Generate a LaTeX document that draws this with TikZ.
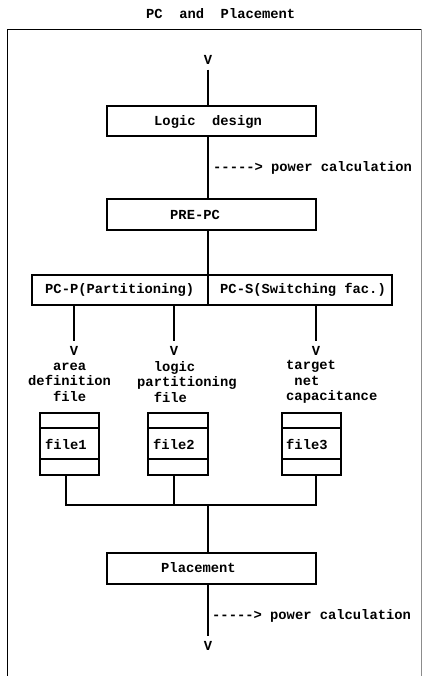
\documentclass[tikz,border=0pt]{standalone}
\usepackage{fontspec}
\newfontfamily\mono{Liberation Mono}
\begin{document}
\begin{tikzpicture}[x=1pt,y=-1pt,
  txt/.style={font={\mono\bfseries\fontsize{13.8}{15.5}\selectfont}, inner sep=0pt, anchor=west},
  vmark/.style={font={\mono\bfseries\fontsize{13.8}{15.5}\selectfont}, anchor=center, inner xsep=0pt, inner ysep=5pt},
  box/.style={draw, line width=1.2pt, inner sep=0pt},
  ln/.style={line width=1.2pt}]
\useasboundingbox (0,0) rectangle (423,676);
% frame
\draw[line width=1.1pt] (7.5,680) -- (7.5,29.5) -- (421,29.5);
\draw[line width=0.8pt, black!45] (421,29.5) -- (421,680);
% title
\node[txt] (title) at (146,14) {PC~~and~~Placement};
% top
\coordinate (ax) at (208,0);
\node[vmark] (vtop) at (208,60) {V};
\node[box, minimum width=209pt, minimum height=30pt] (logic) at (211.5,121) {};
\node[txt] (logict) at (154,121.5) {Logic~~design};
\node[txt] (pc1) at (213,168) {{-}{-}{-}{-}{-}>~power~calculation};
\node[box, minimum width=209pt, minimum height=31pt] (prepc) at (211.5,214.5) {};
\node[txt] (prepct) at (170,214.5) {PRE-PC};
\node[box, minimum width=176pt, minimum height=30pt] (pcp) at (120,290) {};
\node[txt] (pcpt) at (45,290) {PC-P(Partitioning)};
\node[box, minimum width=184pt, minimum height=30pt] (pcs) at (300,290) {};
\node[txt] (pcst) at (220,290) {PC-S(Switching~fac.)};
\draw[ln] (vtop.south) -- (ax |- logic.north);
\draw[ln] (ax |- logic.south) -- (ax |- prepc.north);
\draw[ln] (ax |- prepc.south) -- (ax |- pcp.north);
% branches
\node[vmark] (va) at (74,351) {V};
\node[vmark] (vb) at (174,351) {V};
\node[vmark] (vc) at (316,351) {V};
\draw[ln] (va |- pcp.south) -- (va.north);
\draw[ln] (vb |- pcp.south) -- (vb.north);
\draw[ln] (vc |- pcs.south) -- (vc.north);
\node[txt, align=left] (la) at (28,382) {\phantom{aaa}area\\definition\\\phantom{aaa}file};
\node[txt, align=left] (lb) at (137,382) {\phantom{aa}logic\\partitioning\\\phantom{aa}file};
\node[txt, align=left] (lc) at (286,382) {target\\\phantom{a}net\\capacitance};
% files
\node[box, minimum width=59pt, minimum height=62pt] (f1) at (69.5,444) {};
\node[box, minimum width=60pt, minimum height=62pt] (f2) at (178,444) {};
\node[box, minimum width=59pt, minimum height=62pt] (f3) at (311.5,444) {};
\foreach \f in {f1,f2,f3}{
  \draw[ln] ([yshift=16pt]\f.west) -- ([yshift=16pt]\f.east);
  \draw[ln] ([yshift=-15pt]\f.west) -- ([yshift=-15pt]\f.east);
}
\node[txt] (f1t) at (45,444) {file1};
\node[txt] (f2t) at (153,444) {file2};
\node[txt] (f3t) at (286,444) {file3};
% merge
\coordinate (j1) at (66,505);
\coordinate (j2) at (174,505);
\coordinate (j3) at (316,505);
\coordinate (jc) at (208,505);
\node[box, minimum width=209pt, minimum height=31pt] (place) at (211.5,568.5) {};
\node[txt] (placet) at (161,568) {Placement};
\draw[ln] (j1 |- f1.south) -- (j1) -- (j3) -- (j3 |- f3.south);
\draw[ln] (j2 |- f2.south) -- (j2);
\draw[ln] (jc) -- (jc |- place.north);
% bottom
\node[txt] (pc2) at (212,616) {{-}{-}{-}{-}{-}>~power~calculation};
\node[vmark] (vbot) at (208,646) {V};
\draw[ln] (ax |- place.south) -- (vbot.north);
\end{tikzpicture}
\end{document}
